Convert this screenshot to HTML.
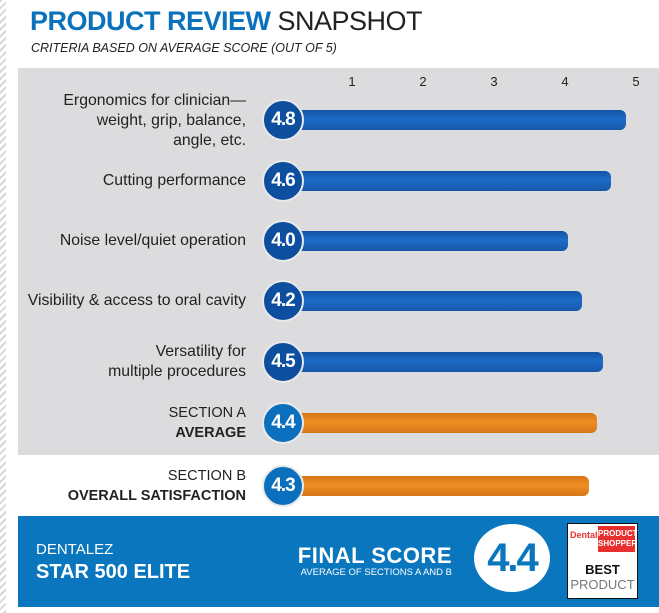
<!DOCTYPE html>
<html><head><style>
body{margin:0;width:659px;height:613px;background:#fff;position:relative;overflow:hidden;font-family:"Liberation Sans",sans-serif;}
.stripe{position:absolute;left:0;top:0;width:6px;height:613px;background:repeating-linear-gradient(135deg,#d6d6d6 0 2px,#fff 2px 5px);}
.abs{position:absolute;}
.lbl{position:absolute;right:413px;text-align:right;font-size:15.8px;color:#222;line-height:20px;white-space:nowrap;}
.sec{font-size:14.5px;}
.bar{position:absolute;left:292px;height:20px;border-radius:0 6px 6px 0;}
.blue{background:linear-gradient(#1353a6,#1d6cc6 45%,#1656a8);}
.or{background:linear-gradient(#d47618,#f08e24 45%,#d47618);}
.c{position:absolute;left:262px;width:38px;height:38px;border-radius:50%;border:2px solid #e9e9ea;color:#fff;font-weight:bold;font-size:19px;text-align:center;line-height:38px;letter-spacing:-1px;}
.tick{position:absolute;top:74px;font-size:13px;color:#222;width:20px;text-align:center;}
</style></head><body>
<div class="stripe"></div>
<div class="abs" style="left:30px;top:6px;font-size:27px;color:#0a72bc;font-weight:bold;letter-spacing:-0.5px;">PRODUCT REVIEW <span style="font-weight:normal;color:#222;">SNAPSHOT</span></div>
<div class="abs" style="left:31px;top:41px;font-size:12.5px;font-style:italic;color:#222;">CRITERIA BASED ON AVERAGE SCORE (OUT OF 5)</div>
<div class="abs" style="left:18px;top:68px;width:641px;height:387px;background:#dcdcde;"></div>
<div class="tick" style="left:342px">1</div><div class="tick" style="left:413px">2</div><div class="tick" style="left:484px">3</div><div class="tick" style="left:555px">4</div><div class="tick" style="left:626px">5</div>

<div class="lbl" style="top:91px">Ergonomics for clinician—<br>weight, grip, balance,<br>angle, etc.</div>
<div class="bar blue" style="top:110px;width:334px"></div><div class="c" style="top:99px;background:#0d4f9e">4.8</div>

<div class="lbl" style="top:171px">Cutting performance</div>
<div class="bar blue" style="top:171px;width:319px"></div><div class="c" style="top:160px;background:#0d4f9e">4.6</div>

<div class="lbl" style="top:231px">Noise level/quiet operation</div>
<div class="bar blue" style="top:231px;width:276px"></div><div class="c" style="top:220px;background:#0d4f9e">4.0</div>

<div class="lbl" style="top:291px">Visibility &amp; access to oral cavity</div>
<div class="bar blue" style="top:291px;width:290px"></div><div class="c" style="top:280px;background:#0d4f9e">4.2</div>

<div class="lbl" style="top:342px">Versatility for<br>multiple procedures</div>
<div class="bar blue" style="top:352px;width:311px"></div><div class="c" style="top:341px;background:#0d4f9e">4.5</div>

<div class="lbl sec" style="top:403px">SECTION A<br><b>AVERAGE</b></div>
<div class="bar or" style="top:413px;width:305px"></div><div class="c" style="top:402px;background:#0a6fbc">4.4</div>

<div class="lbl sec" style="top:466px">SECTION B<br><b>OVERALL SATISFACTION</b></div>
<div class="bar or" style="top:476px;width:297px"></div><div class="c" style="top:465px;background:#0a6fbc">4.3</div>

<div class="abs" style="left:18px;top:516px;width:641px;height:91px;background:#0a76be;"></div>
<div class="abs" style="left:36px;top:541px;font-size:15px;color:#fff;">DENTALEZ</div>
<div class="abs" style="left:36px;top:561px;font-size:20px;color:#fff;font-weight:bold;">STAR 500 ELITE</div>
<div class="abs" style="right:207px;top:543px;font-size:22px;color:#fff;font-weight:bold;letter-spacing:0.5px;">FINAL SCORE</div>
<div class="abs" style="right:207px;top:567px;font-size:9.5px;color:#fff;">AVERAGE OF SECTIONS A AND B</div>
<div class="abs" style="left:474px;top:524px;width:76px;height:68px;border-radius:50%;background:#fff;color:#0a76be;font-weight:bold;font-size:40px;text-align:center;line-height:68px;letter-spacing:-2px;">4.4</div>
<div class="abs" style="left:567px;top:523px;width:69px;height:74px;background:#fff;border:1px solid #111;">
 <div class="abs" style="left:2px;top:6px;font-size:9px;color:#e8312f;font-weight:bold;">Dental</div>
 <div class="abs" style="left:30px;top:2px;width:37px;height:26px;background:#e8312f;color:#fff;font-size:8px;font-weight:bold;line-height:10px;text-align:center;padding-top:3px;box-sizing:border-box;">PRODUCT SHOPPER</div>
 <div class="abs" style="left:0;width:69px;top:38px;text-align:center;font-size:13px;font-weight:bold;color:#111;">BEST</div>
 <div class="abs" style="left:0;width:69px;top:53px;text-align:center;font-size:13px;color:#777;">PRODUCT</div>
</div>
</body></html>
